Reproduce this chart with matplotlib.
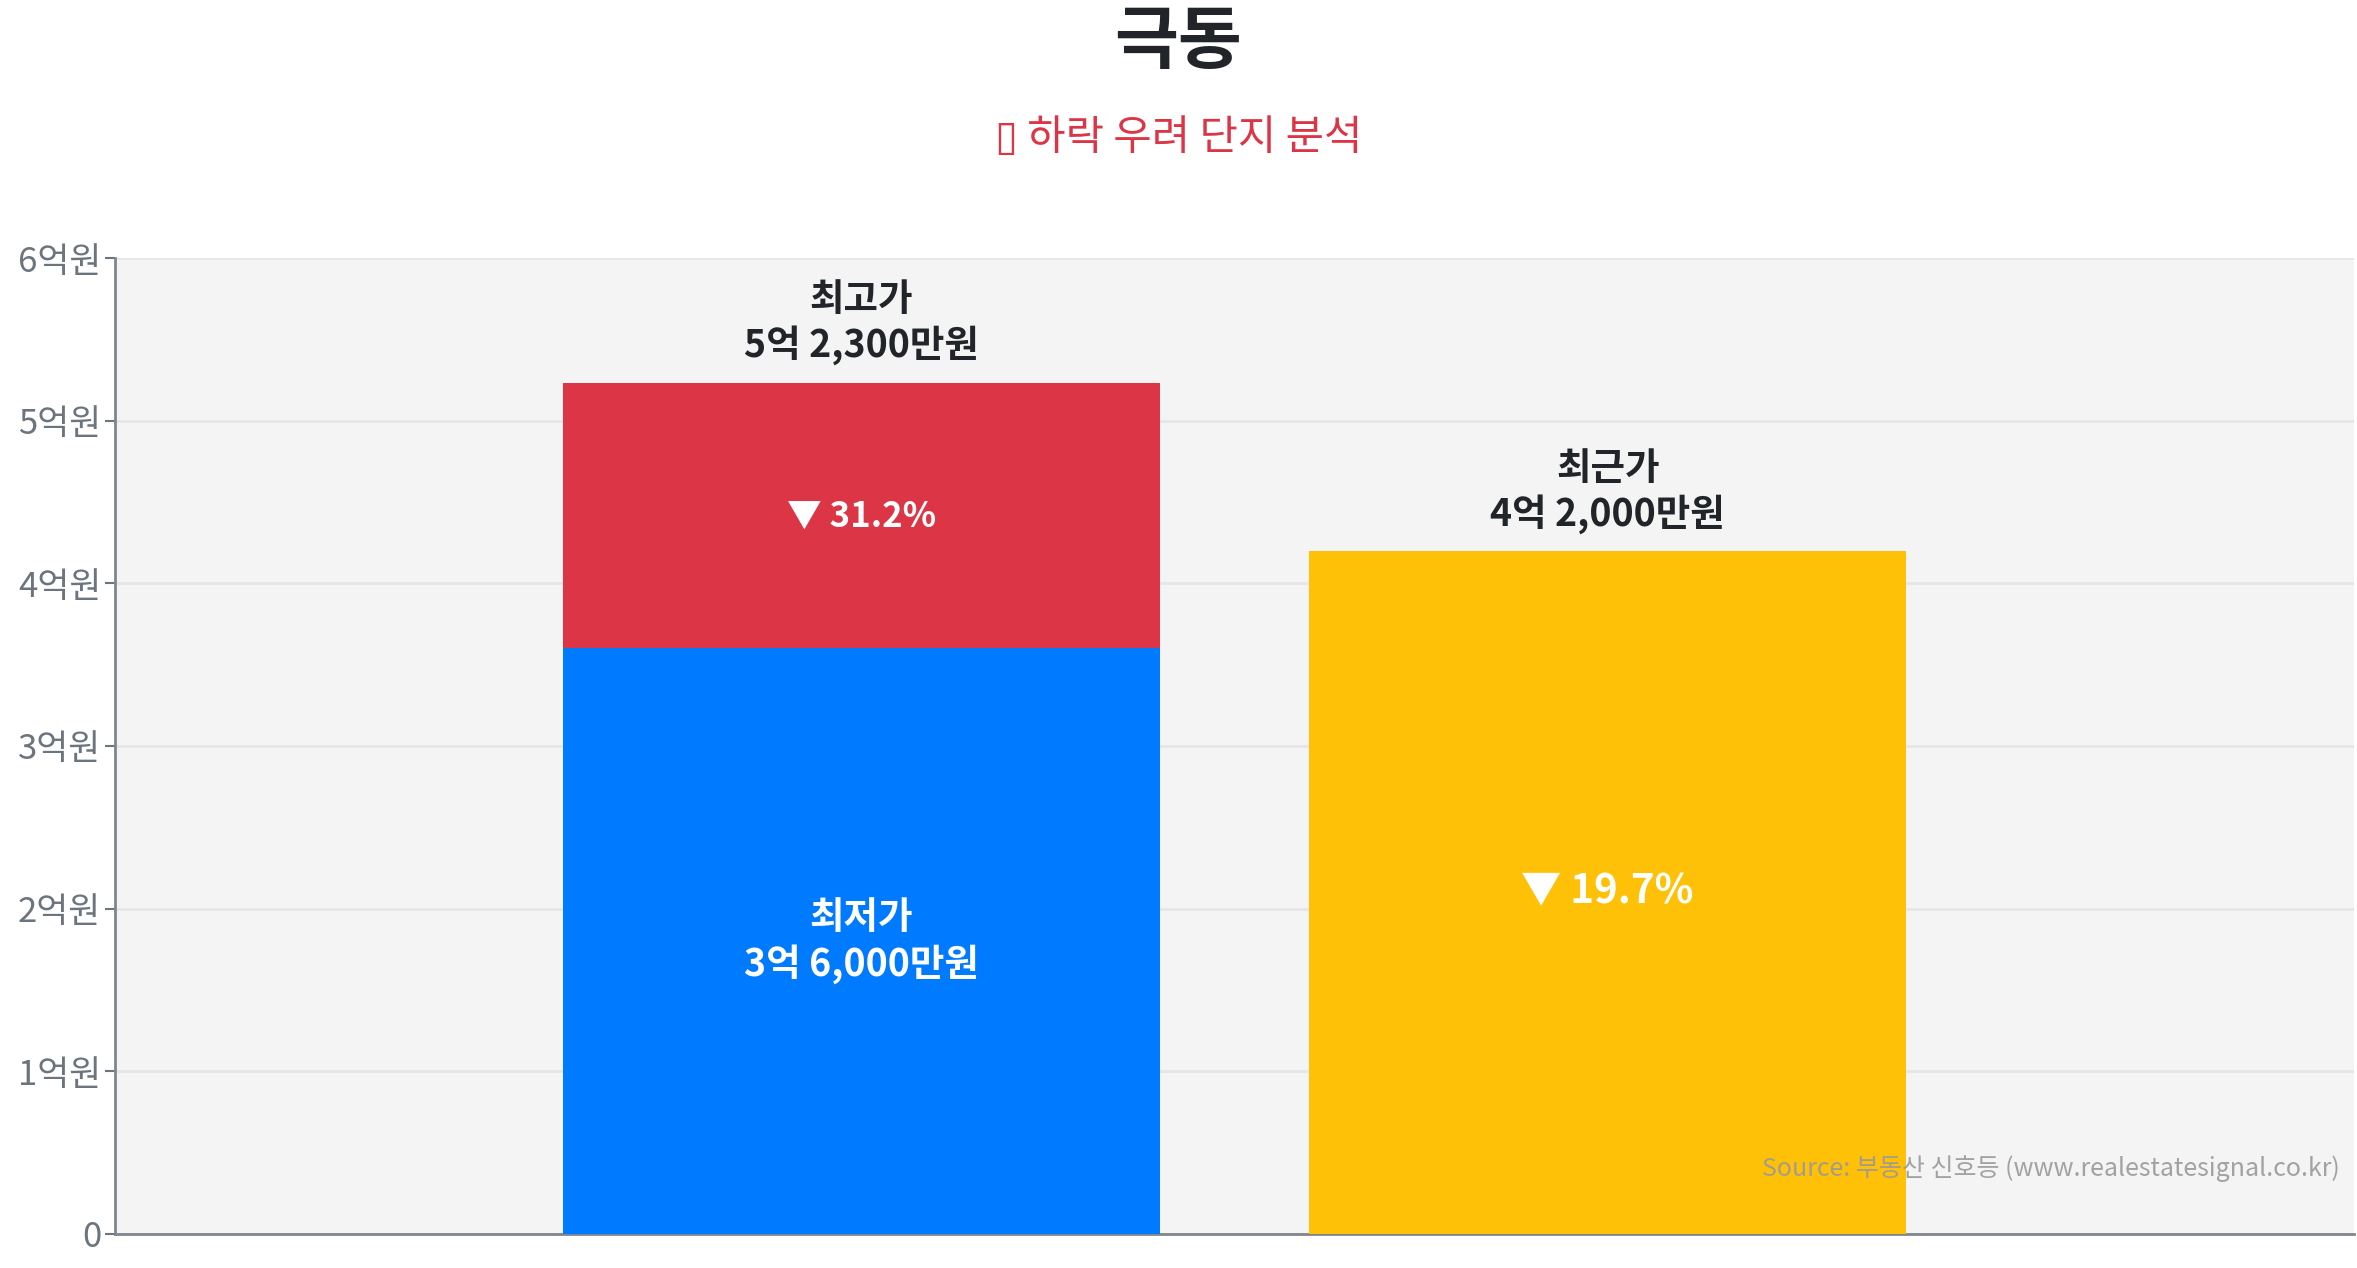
import matplotlib.pyplot as plt

# 데이터 (단위: 억원)
title = '극동'
subtitle = '▯ 하락 우려 단지 분석'
positions = [1, 2]
high_price = 5.23
low_price = 3.60
recent_price = 4.20
high_text = '최고가\n5억 2,300만원'
low_text = '최저가\n3억 6,000만원'
recent_text = '최근가\n4억 2,000만원'
drop_low = '▼ 31.2%'
drop_recent = '▼ 19.7%'
yticks = [0, 1, 2, 3, 4, 5, 6]
ytick_labels = ['0', '1억원', '2억원', '3억원', '4억원', '5억원', '6억원']
source = 'Source: 부동산 신호등 (www.realestatesignal.co.kr)'

plt.rcParams['font.family'] = ['Noto Sans CJK KR', 'DejaVu Sans']

fig = plt.figure(figsize=(23.57, 12.68), dpi=100)
ax = fig.add_axes([0.0488, 0.027, 0.9499, 0.7695])
ax.set_facecolor('#f4f4f4')

# 막대
ax.bar(positions[0], low_price, width=0.8, color='#007bff', zorder=3)
ax.bar(positions[0], high_price - low_price, bottom=low_price, width=0.8, color='#dc3545', zorder=3)
ax.bar(positions[1], recent_price, width=0.8, color='#ffc107', zorder=3)

# 막대 위 라벨
ax.annotate(high_text, (positions[0], high_price), xytext=(0, 13), textcoords='offset points',
            ha='center', va='bottom', fontsize=27, fontweight='bold', color='#212529', linespacing=1.2)
ax.annotate(recent_text, (positions[1], recent_price), xytext=(0, 12), textcoords='offset points',
            ha='center', va='bottom', fontsize=27, fontweight='bold', color='#212529', linespacing=1.2)

# 막대 안 라벨
ax.text(positions[0], low_price / 2, low_text, ha='center', va='center', fontsize=27,
        fontweight='bold', color='white', linespacing=1.2, zorder=4)
ax.text(positions[0], (high_price + low_price) / 2, drop_low, ha='center', va='center',
        fontsize=25, fontweight='bold', color='white', zorder=4)
ax.text(positions[1], recent_price / 2, drop_recent, ha='center', va='center',
        fontsize=29, fontweight='bold', color='white', zorder=4)

ax.set_xlim(0, 3)
ax.set_ylim(0, 6)
ax.set_xticks([])
ax.set_yticks(yticks)
ax.set_yticklabels(ytick_labels, fontsize=25, color='#6c757d')
ax.tick_params(axis='y', length=7, width=1.5, color='#6c757d', pad=3)
ax.grid(axis='y', color='#e6e6e6', linewidth=2, zorder=0)
for s in ['top', 'right']:
    ax.spines[s].set_visible(False)
for s in ['left', 'bottom']:
    ax.spines[s].set_color('#80868d')
    ax.spines[s].set_linewidth(2)

ax.text(0.9935, 0.067, source, transform=ax.transAxes, ha='right', va='center',
        fontsize=18, color='#999999', alpha=0.9, zorder=5)

fig.text(0.5, 0.966, title, ha='center', va='center', fontsize=50, fontweight='bold', color='#212529')
fig.text(0.5, 0.891, subtitle, ha='center', va='center', fontsize=30, color='#dc3545')

plt.savefig('out.png', dpi=100)
